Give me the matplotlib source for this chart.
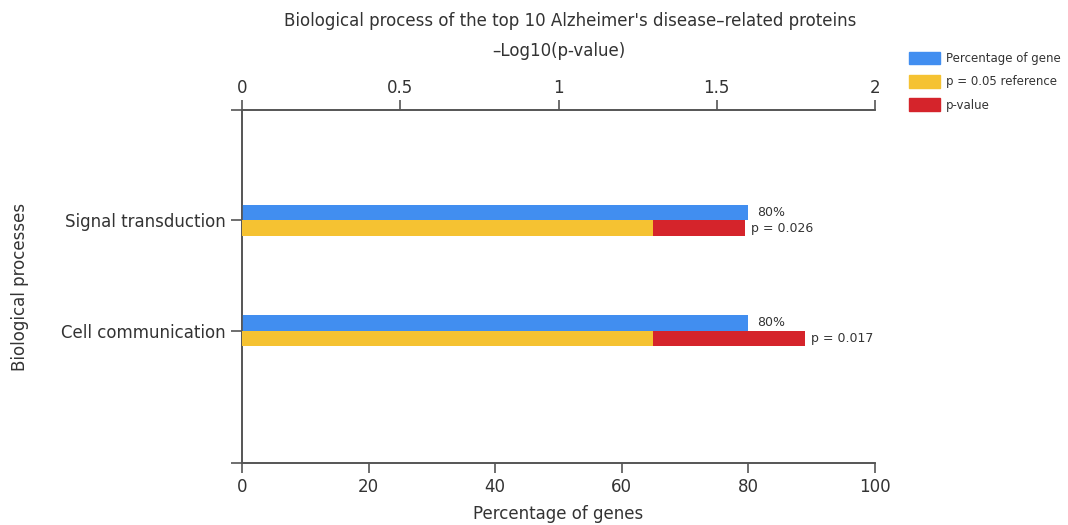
import matplotlib
matplotlib.use("Agg")
import matplotlib.pyplot as plt
from matplotlib.patches import Patch

# ---- data ----
categories = ["Signal transduction", "Cell communication"]
pct_genes = [80, 80]
pct_labels = ["80%", "80%"]
ref_neglog = [1.30, 1.30]          # -log10(0.05) reference
pval_neglog = [1.59, 1.78]         # -log10(p-value) as drawn
pval_labels = ["p = 0.026", "p = 0.017"]
bottom_ticks = [0, 20, 40, 60, 80, 100]
top_ticks = [0, 0.5, 1, 1.5, 2]
top_ticklabels = ["0", "0.5", "1", "1.5", "2"]

plt.rcParams['font.family'] = ['DejaVu Sans']
TXT = '#333333'
AX = '#555555'
BLUE = '#418EF0'
YELLOW = '#F5C232'
RED = '#D5242B'
FS = 12

fig = plt.figure(figsize=(10.68, 5.25), dpi=100)
ax = fig.add_axes([242/1068, 62/525, 633/1068, 353/525])
ax2 = ax.twiny()

ypos = [1, 2]
h = 0.14

ax.barh([y - h/2 for y in ypos], pct_genes, height=h, color=BLUE, zorder=3)
ax2.barh([y + h/2 for y in ypos], pval_neglog, height=h, color=RED, zorder=3)
ax2.barh([y + h/2 for y in ypos], ref_neglog, height=h, color=YELLOW, zorder=4)

for y, v, t in zip(ypos, pct_genes, pct_labels):
    ax.annotate(t, (v, y - h/2), xytext=(6, 0), textcoords='offset points',
                va='center', ha='left', fontsize=9, color=TXT)
for y, v, t in zip(ypos, pval_neglog, pval_labels):
    ax2.annotate(t, (v, y + h/2), xytext=(4, 0), textcoords='offset points',
                 va='center', ha='left', fontsize=9, color=TXT)

ax.set_xlim(0, 100)
ax2.set_xlim(0, 2.0)
ax.set_ylim(3.2, 0)

ax.set_xticks(bottom_ticks)
ax.set_xticklabels([str(t) for t in bottom_ticks])
ax2.set_xticks(top_ticks)
ax2.set_xticklabels(top_ticklabels)

ax.set_yticks([0] + ypos + [3.2])
ax.set_yticklabels([""] + categories + [""])

for a in (ax, ax2):
    a.spines['right'].set_visible(False)
    for s in a.spines.values():
        s.set_color(AX)
        s.set_linewidth(1.2)
    a.tick_params(colors=AX, labelcolor=TXT, labelsize=FS, length=7, width=1.2)
ax.tick_params(axis='y', labelsize=FS, length=8)
ax.tick_params(axis='x', pad=4)
ax2.tick_params(axis='x', pad=2)

ax.set_xlabel("Percentage of genes", fontsize=FS, color=TXT, labelpad=6)
ax2.set_xlabel("\u2013Log10(p-value)", fontsize=FS, color=TXT, labelpad=17)
ax.set_ylabel("Biological processes", fontsize=FS, color=TXT)
ax.yaxis.set_label_coords(-0.336, 0.5)

fig.text(570/1068, 1 - 21/525,
         "Biological process of the top 10 Alzheimer's disease\u2013related proteins",
         ha='center', va='center', fontsize=FS, color=TXT)

handles = [Patch(color=BLUE, label="Percentage of gene"),
           Patch(color=YELLOW, label="p = 0.05 reference"),
           Patch(color=RED, label="p-value")]
leg = fig.legend(handles=handles, loc='upper left', bbox_to_anchor=(909/1068, 1 - 52/525),
                 frameon=False, fontsize=8.5, handlelength=2.6, handleheight=1.25,
                 handletextpad=0.5, labelspacing=0.85, borderaxespad=0, borderpad=0)
for t in leg.get_texts():
    t.set_color(TXT)

fig.savefig("out.png", dpi=100)
